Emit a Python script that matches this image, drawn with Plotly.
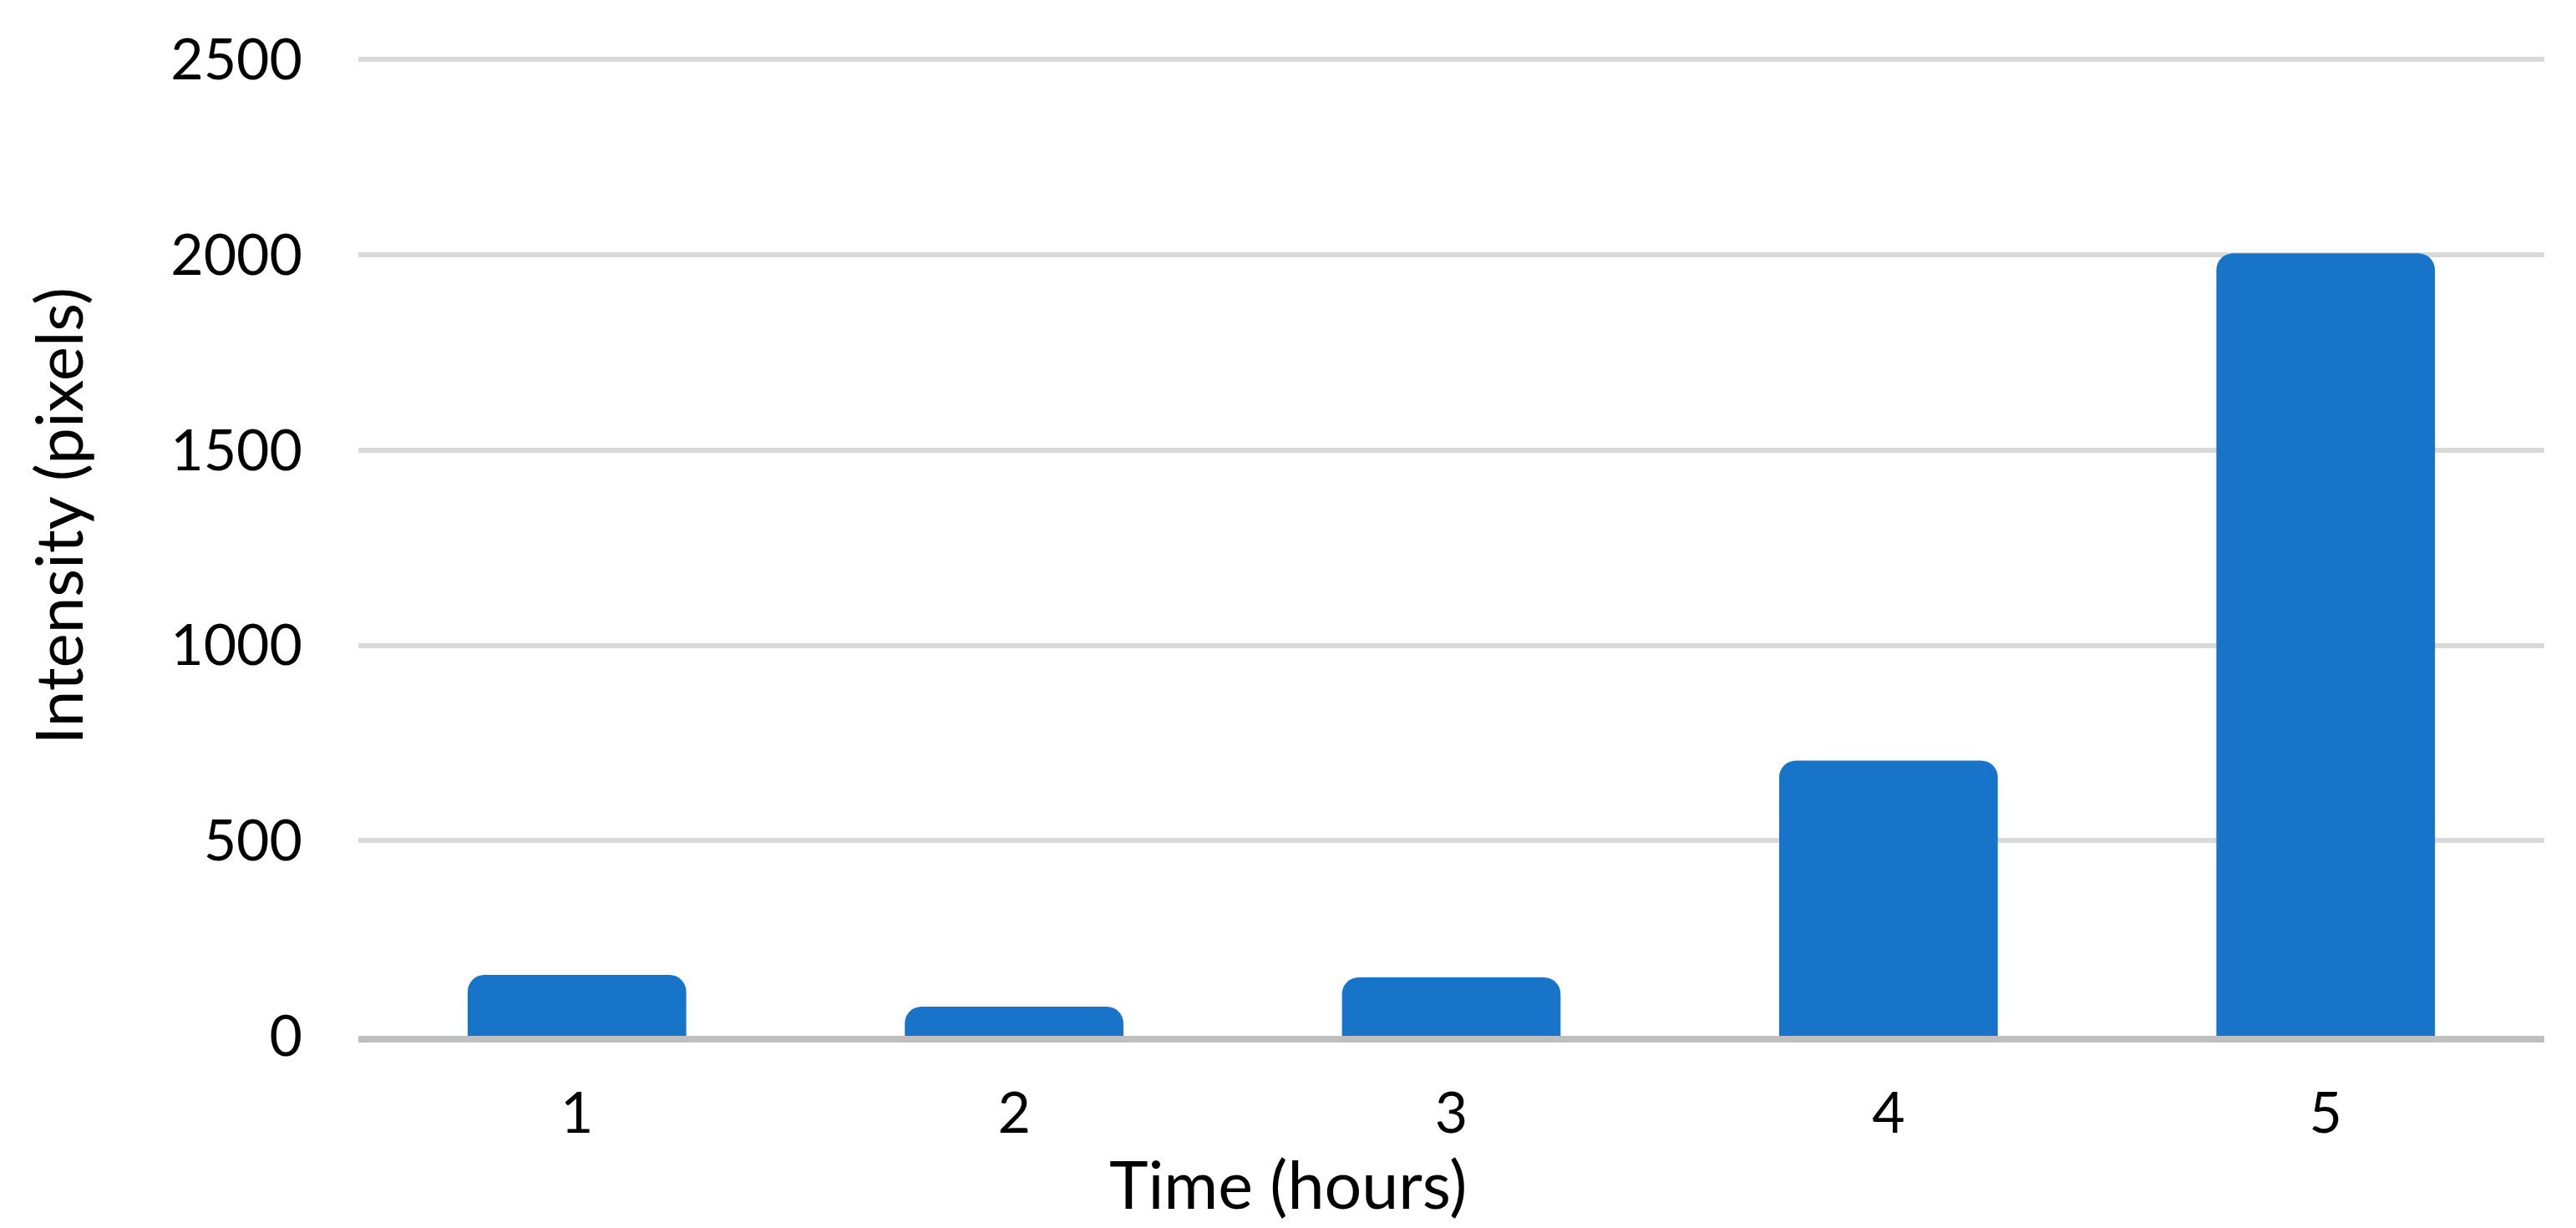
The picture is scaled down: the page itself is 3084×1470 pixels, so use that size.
import plotly.graph_objects as go

hours = ["1", "2", "3", "4", "5"]
intensity = [156, 75, 150, 705, 2004]
y_ticks = [0, 500, 1000, 1500, 2000, 2500]

FONT = "Lato"

fig = go.Figure(
    go.Bar(
        x=hours,
        y=intensity,
        marker=dict(color="#1874C8", cornerradius=20, line=dict(width=0)),
    )
)

fig.update_layout(
    width=3084,
    height=1470,
    plot_bgcolor="white",
    paper_bgcolor="white",
    bargap=0.5,
    showlegend=False,
    # the page body has an 8px margin, so everything is shifted by that
    margin=dict(l=421, r=46, t=62, b=238),
    font=dict(family=FONT, color="black"),
    xaxis=dict(
        type="category",
        tickfont=dict(size=68, family=FONT),
        showline=True,
        linecolor="#BFBFBF",
        linewidth=8,
        layer="above traces",
        ticks="",
        ticklabelstandoff=26,
        showgrid=False,
    ),
    yaxis=dict(
        range=[0, 2503],
        tickvals=y_ticks,
        tickfont=dict(size=68, family=FONT),
        showgrid=True,
        gridcolor="#D9D9D9",
        gridwidth=6,
        zeroline=False,
        showline=False,
        ticks="",
        ticklabelstandoff=66,
    ),
)

# axis titles placed as in the original (centred on the figure, not the plot area)
fig.add_annotation(
    text="Time (hours)",
    xref="paper", yref="paper",
    x=0.4253, y=-0.1506,
    xanchor="center", yanchor="middle",
    showarrow=False,
    font=dict(size=79, family=FONT, color="black"),
)
fig.add_annotation(
    text="Intensity (pixels)",
    xref="paper", yref="paper",
    x=-0.1376, y=0.532,
    xanchor="center", yanchor="middle",
    textangle=-90,
    showarrow=False,
    font=dict(size=78, family=FONT, color="black"),
)

fig.write_html("out.html")
